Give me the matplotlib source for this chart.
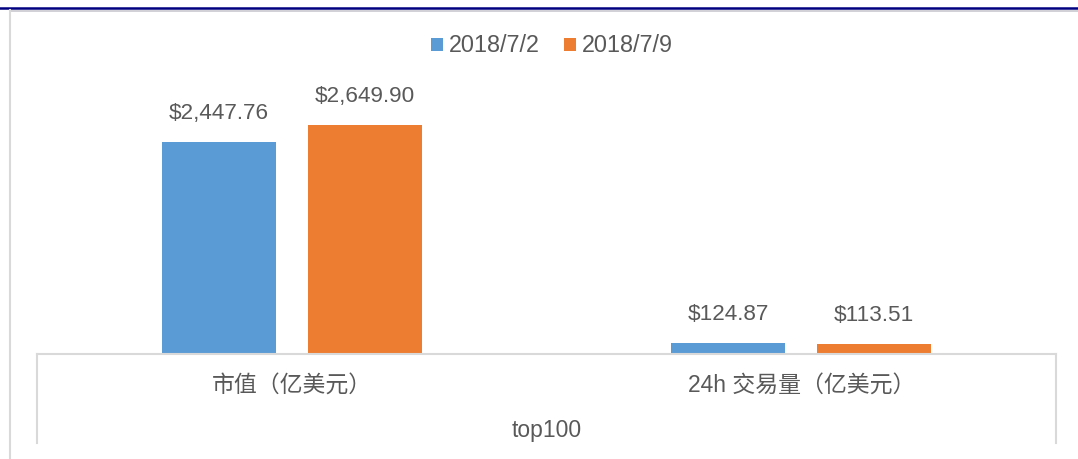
import matplotlib
matplotlib.use("Agg")
import matplotlib.pyplot as plt
from matplotlib.lines import Line2D
from matplotlib.patches import Patch
import numpy as np

plt.rcParams['font.family'] = ['Liberation Sans', 'Noto Sans CJK SC', 'DejaVu Sans']

categories = ["市值（亿美元）", "24h 交易量（亿美元）"]
group_label = "top100"
series_names = ["2018/7/2", "2018/7/9"]
values_0702 = [2447.76, 124.87]
values_0709 = [2649.90, 113.51]
colors = ["#5B9BD5", "#ED7D31"]
text_color = "#595959"
axis_color = "#D9D9D9"

W, H = 1078, 459
fig = plt.figure(figsize=(W / 100, H / 100), dpi=100)

ax_left, ax_right = 37, 1056
ax_bottom, ax_top = 354, 60
ax = fig.add_axes([ax_left / W, 1 - ax_bottom / H,
                   (ax_right - ax_left) / W, (ax_bottom - ax_top) / H])

x = np.arange(len(categories))
bw = 0.224
off = 0.143
series = [values_0702, values_0709]
for i, (vals, c) in enumerate(zip(series, colors)):
    xs = x + (-off if i == 0 else off)
    bars = ax.bar(xs, vals, width=bw, color=c, zorder=2)
    for b, v in zip(bars, vals):
        ax.annotate(f"${v:,.2f}", (b.get_x() + b.get_width() / 2, b.get_height()),
                    xytext=(0, 20.5), textcoords="offset points",
                    ha="center", va="center", fontsize=16.2, color=text_color)

ax.set_xlim(-0.5, 1.5)
ax.set_ylim(0, 3400)
for s in ["top", "left", "right"]:
    ax.spines[s].set_visible(False)
ax.spines["bottom"].set_color(axis_color)
ax.spines["bottom"].set_linewidth(1.5)
ax.set_yticks([])
ax.set_xticks([])

# multi-level category axis
axh = ax_bottom - ax_top
trans = ax.get_xaxis_transform()
for xi, cat in zip(x, categories):
    ax.text(xi, (ax_bottom - 385) / axh, cat, transform=trans, ha="center", va="center",
            fontsize=16.5, color=text_color)
ax.text(0.5, (ax_bottom - 430) / axh, group_label, transform=ax.transAxes,
        ha="center", va="center", fontsize=16.5, color=text_color)
for xa in (0, 1):
    ax.add_line(Line2D([xa, xa], [0, (ax_bottom - 443) / axh], transform=ax.transAxes,
                       color=axis_color, lw=1.5, clip_on=False))

# legend
handles = [Patch(facecolor=c, edgecolor="none") for c in colors]
leg = fig.legend(handles, series_names, loc="center", bbox_to_anchor=(552 / W, 1 - 46 / H),
                 ncol=2, frameon=False, fontsize=16.8, handlelength=0.5, handleheight=0.5,
                 handletextpad=0.25, columnspacing=1.05)
for t in leg.get_texts():
    t.set_color(text_color)

# frame lines at top and left
fig.add_artist(Line2D([0, 1], [1 - 8 / H, 1 - 8 / H], transform=fig.transFigure,
                      color="#000080", lw=1.8))
fig.add_artist(Line2D([10 / W, 1], [1 - 10.5 / H, 1 - 10.5 / H], transform=fig.transFigure,
                      color="#C8C8D0", lw=1.2))
fig.add_artist(Line2D([10 / W, 10 / W], [0, 1 - 10 / H], transform=fig.transFigure,
                      color="#D9D9D9", lw=1.5))

fig.savefig("out.png", dpi=100)
